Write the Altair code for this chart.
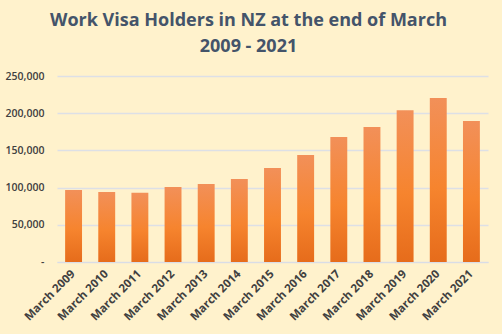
import altair as alt
import pandas as pd

years = ["March 2009", "March 2010", "March 2011", "March 2012", "March 2013",
         "March 2014", "March 2015", "March 2016", "March 2017", "March 2018",
         "March 2019", "March 2020", "March 2021"]
holders = [96800, 94200, 93000, 100800, 104800, 111600, 126300, 143800,
           168000, 181500, 204000, 220500, 189500]

df = pd.DataFrame({"year": years, "holders": holders})

gradient = alt.Gradient(
    gradient="linear", x1=0, y1=0, x2=0, y2=1,
    stops=[
        alt.GradientStop(color="#F29059", offset=0),
        alt.GradientStop(color="#F6842E", offset=0.55),
        alt.GradientStop(color="#E66C1B", offset=1),
    ],
)

chart = alt.Chart(df).mark_bar(fill=gradient).encode(
    x=alt.X("year:N", sort=years, title=None,
            scale=alt.Scale(paddingInner=0.49, paddingOuter=0.245),
            axis=alt.Axis(labelAngle=-45, labelAlign="right", labelBaseline="middle",
                          labelFont="Open Sans", labelFontSize=11.5, labelFontWeight="bold",
                          labelColor="#404040", ticks=False, domainColor="#D9DDE6",
                          labelPadding=10, grid=False)),
    y=alt.Y("holders:Q", title=None,
            scale=alt.Scale(domain=[0, 250000], nice=False),
            axis=alt.Axis(values=[0, 50000, 100000, 150000, 200000, 250000],
                          labelExpr="datum.value == 0 ? '-' : format(datum.value, ',')",
                          labelFont="Open Sans", labelFontSize=10.5, labelFontWeight=600,
                          labelColor="#404040", ticks=False, domain=False,
                          gridColor="#DDE0E6", gridWidth=1.5, labelPadding=13)),
).properties(
    width=431, height=186,
    background="#FFF2CC",
    padding={"left": 57, "top": 76, "right": 14, "bottom": 72},
    autosize=alt.AutoSizeParams(type="none"),
    title=alt.TitleParams(
        ["Work Visa Holders in NZ at the end of March", "2009 - 2021"],
        font="Open Sans", fontSize=18, fontWeight="bold", color="#44546A",
        anchor="middle", dx=-24, offset=15, lineHeight=26,
    ),
).configure_view(stroke=None)

chart.save("out.html", embed_options={"renderer": "svg", "actions": False})
